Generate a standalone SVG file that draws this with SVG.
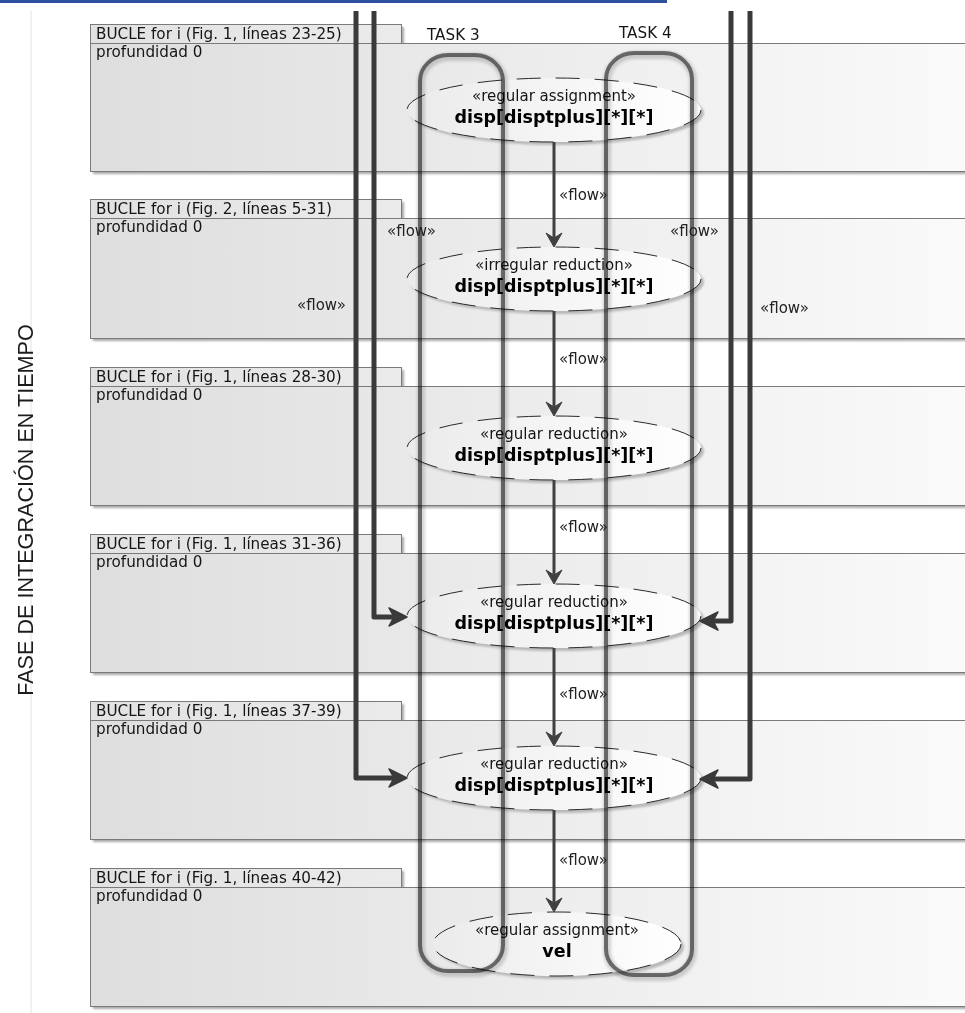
<svg xmlns="http://www.w3.org/2000/svg" width="965" height="1013" viewBox="0 0 965 1013">
<defs>
<style>
text{font-family:"DejaVu Sans","Liberation Sans",sans-serif;fill:#151515}
.lbl{font-size:15.2px}
.fl{font-size:15px;fill:#222}
.st{font-size:15px;text-anchor:middle}
.nm{font-size:17.5px;font-weight:bold;text-anchor:middle;fill:#000}
.title{font-family:"Liberation Sans",Arial,sans-serif;font-size:21.6px;text-anchor:middle;fill:#1c1c1c}
.shadow{fill:#a9a9a9;filter:url(#b1)}
.tab{fill:url(#tabg);stroke:#7a7a7a;stroke-width:1}
.main{fill:url(#boxg);stroke:#7a7a7a;stroke-width:1}
.esh{fill:#b8b8b8;filter:url(#b1)}
.ell{fill:url(#ellg);stroke:#2a2a2a;stroke-width:1;stroke-dasharray:24 15}
.cap{fill:none;stroke:#7e7e7e;stroke-width:4;mix-blend-mode:multiply}
.caph{fill:none;stroke:#b5b5b5;stroke-width:8;filter:url(#b2);opacity:.55;mix-blend-mode:multiply}
.flow{fill:none;stroke:#404040;stroke-width:3;marker-end:url(#ah)}
.big{fill:none;stroke:#3a3a3a;stroke-width:5;stroke-linejoin:round;marker-end:url(#bah)}
</style>
<linearGradient id="boxg" x1="0" y1="0" x2="1" y2="0"><stop offset="0" stop-color="#dedede"/><stop offset="1" stop-color="#fbfbfb"/></linearGradient>
<linearGradient id="tabg" x1="0" y1="0" x2="1" y2="0"><stop offset="0" stop-color="#e2e2e2"/><stop offset="1" stop-color="#ebebeb"/></linearGradient>
<linearGradient id="ellg" x1="0" y1="0" x2="1" y2="0"><stop offset="0" stop-color="#ebebeb"/><stop offset="1" stop-color="#ffffff"/></linearGradient>
<filter id="b1" x="-10%" y="-10%" width="120%" height="130%"><feGaussianBlur stdDeviation="1"/></filter>
<filter id="b2" x="-20%" y="-5%" width="140%" height="110%"><feGaussianBlur stdDeviation="1.6"/></filter>
<marker id="ah" markerUnits="userSpaceOnUse" markerWidth="18" markerHeight="18" refX="8" refY="8" orient="auto" overflow="visible"><path d="M1,0 L15,8 L1,16 L6,8 Z" fill="#404040" stroke="#404040" stroke-width="1" stroke-linejoin="round"/></marker>
<marker id="bah" markerUnits="userSpaceOnUse" markerWidth="22" markerHeight="22" refX="10" refY="10" orient="auto" overflow="visible"><path d="M1,1 L19,10 L1,19 L6,10 Z" fill="#3a3a3a" stroke="#3a3a3a" stroke-width="1.5" stroke-linejoin="round"/></marker>
</defs>
<rect x="0" y="0" width="965" height="1013" fill="#ffffff"/>
<rect x="0" y="0" width="667" height="3" fill="#2f4f9f"/>
<line x1="31" y1="11" x2="31" y2="1013" stroke="#e2e2e2" stroke-width="1"/>
<text class="title" transform="translate(33,510) rotate(-90)">FASE DE INTEGRACIÓN EN TIEMPO</text>

<g id="loop1">
<rect class="shadow" x="93" y="27" width="311" height="19"/><rect class="shadow" x="93" y="46" width="900" height="128"/>
<rect class="tab" x="90.5" y="24.5" width="311" height="19"/><rect class="main" x="90.5" y="43.5" width="900" height="128"/>
<text class="lbl" x="96" y="39">BUCLE for i (Fig. 1, líneas 23-25)</text><text class="lbl" x="96" y="57">profundidad 0</text>
</g>
<g id="loop2">
<rect class="shadow" x="93" y="202" width="311" height="19"/><rect class="shadow" x="93" y="221" width="900" height="120"/>
<rect class="tab" x="90.5" y="199.5" width="311" height="19"/><rect class="main" x="90.5" y="218.5" width="900" height="120"/>
<text class="lbl" x="96" y="214">BUCLE for i (Fig. 2, líneas 5-31)</text><text class="lbl" x="96" y="232">profundidad 0</text>
</g>
<g id="loop3">
<rect class="shadow" x="93" y="370" width="311" height="19"/><rect class="shadow" x="93" y="389" width="900" height="119"/>
<rect class="tab" x="90.5" y="367.5" width="311" height="19"/><rect class="main" x="90.5" y="386.5" width="900" height="119"/>
<text class="lbl" x="96" y="382">BUCLE for i (Fig. 1, líneas 28-30)</text><text class="lbl" x="96" y="400">profundidad 0</text>
</g>
<g id="loop4">
<rect class="shadow" x="93" y="537" width="311" height="19"/><rect class="shadow" x="93" y="556" width="900" height="119"/>
<rect class="tab" x="90.5" y="534.5" width="311" height="19"/><rect class="main" x="90.5" y="553.5" width="900" height="119"/>
<text class="lbl" x="96" y="549">BUCLE for i (Fig. 1, líneas 31-36)</text><text class="lbl" x="96" y="567">profundidad 0</text>
</g>
<g id="loop5">
<rect class="shadow" x="93" y="704" width="311" height="19"/><rect class="shadow" x="93" y="723" width="900" height="119"/>
<rect class="tab" x="90.5" y="701.5" width="311" height="19"/><rect class="main" x="90.5" y="720.5" width="900" height="119"/>
<text class="lbl" x="96" y="716">BUCLE for i (Fig. 1, líneas 37-39)</text><text class="lbl" x="96" y="734">profundidad 0</text>
</g>
<g id="loop6">
<rect class="shadow" x="93" y="871" width="311" height="19"/><rect class="shadow" x="93" y="890" width="900" height="119"/>
<rect class="tab" x="90.5" y="868.5" width="311" height="19"/><rect class="main" x="90.5" y="887.5" width="900" height="119"/>
<text class="lbl" x="96" y="883">BUCLE for i (Fig. 1, líneas 40-42)</text><text class="lbl" x="96" y="901">profundidad 0</text>
</g>

<g id="n1">
<ellipse class="esh" cx="557" cy="113" rx="147" ry="32"/><ellipse class="ell" cx="554" cy="110" rx="147" ry="32"/>
<text class="st" x="554" y="101">«regular assignment»</text><text class="nm" x="554" y="123">disp[disptplus][*][*]</text>
</g>
<g id="n2">
<ellipse class="esh" cx="557" cy="282" rx="147" ry="32"/><ellipse class="ell" cx="554" cy="279" rx="147" ry="32"/>
<text class="st" x="554" y="270">«irregular reduction»</text><text class="nm" x="554" y="292">disp[disptplus][*][*]</text>
</g>
<g id="n3">
<ellipse class="esh" cx="557" cy="451" rx="147" ry="32"/><ellipse class="ell" cx="554" cy="448" rx="147" ry="32"/>
<text class="st" x="554" y="439">«regular reduction»</text><text class="nm" x="554" y="461">disp[disptplus][*][*]</text>
</g>
<g id="n4">
<ellipse class="esh" cx="557" cy="619" rx="147" ry="32"/><ellipse class="ell" cx="554" cy="616" rx="147" ry="32"/>
<text class="st" x="554" y="607">«regular reduction»</text><text class="nm" x="554" y="629">disp[disptplus][*][*]</text>
</g>
<g id="n5">
<ellipse class="esh" cx="557" cy="781" rx="147" ry="32"/><ellipse class="ell" cx="554" cy="778" rx="147" ry="32"/>
<text class="st" x="554" y="769">«regular reduction»</text><text class="nm" x="554" y="791">disp[disptplus][*][*]</text>
</g>
<g id="n6">
<ellipse class="esh" cx="560" cy="947" rx="124" ry="32"/><ellipse class="ell" cx="557" cy="944" rx="124" ry="32"/>
<text class="st" x="557" y="935">«regular assignment»</text><text class="nm" x="557" y="957">vel</text>
</g>

<g id="task3">
<rect class="caph" x="421" y="57" width="83" height="916" rx="28" ry="26"/>
<rect class="cap" x="420" y="55" width="83" height="916" rx="28" ry="26"/>
<text class="lbl" x="427" y="40">TASK 3</text>
</g>
<g id="task4">
<rect class="caph" x="607" y="55" width="86" height="922" rx="28" ry="26"/>
<rect class="cap" x="606" y="53" width="86" height="922" rx="28" ry="26"/>
<text class="lbl" x="619" y="38">TASK 4</text>
</g>

<g id="connectors">
<path class="flow" d="M554,142 V240"/>
<path class="flow" d="M554,311 V409"/>
<path class="flow" d="M554,480 V577"/>
<path class="flow" d="M554,648 V739"/>
<path class="flow" d="M554,810 V905"/>
<text class="fl" x="559" y="200">«flow»</text>
<text class="fl" x="559" y="364">«flow»</text>
<text class="fl" x="559" y="532">«flow»</text>
<text class="fl" x="559" y="699">«flow»</text>
<text class="fl" x="559" y="865">«flow»</text>
<path class="big" d="M374,11 V617 H398"/>
<path class="big" d="M356,11 V778 H398"/>
<path class="big" d="M731,11 V621 H709"/>
<path class="big" d="M750,11 V779 H709"/>
<text class="fl" x="387" y="236">«flow»</text>
<text class="fl" x="297" y="310">«flow»</text>
<text class="fl" x="670" y="236">«flow»</text>
<text class="fl" x="760" y="313">«flow»</text>
</g>
</svg>
